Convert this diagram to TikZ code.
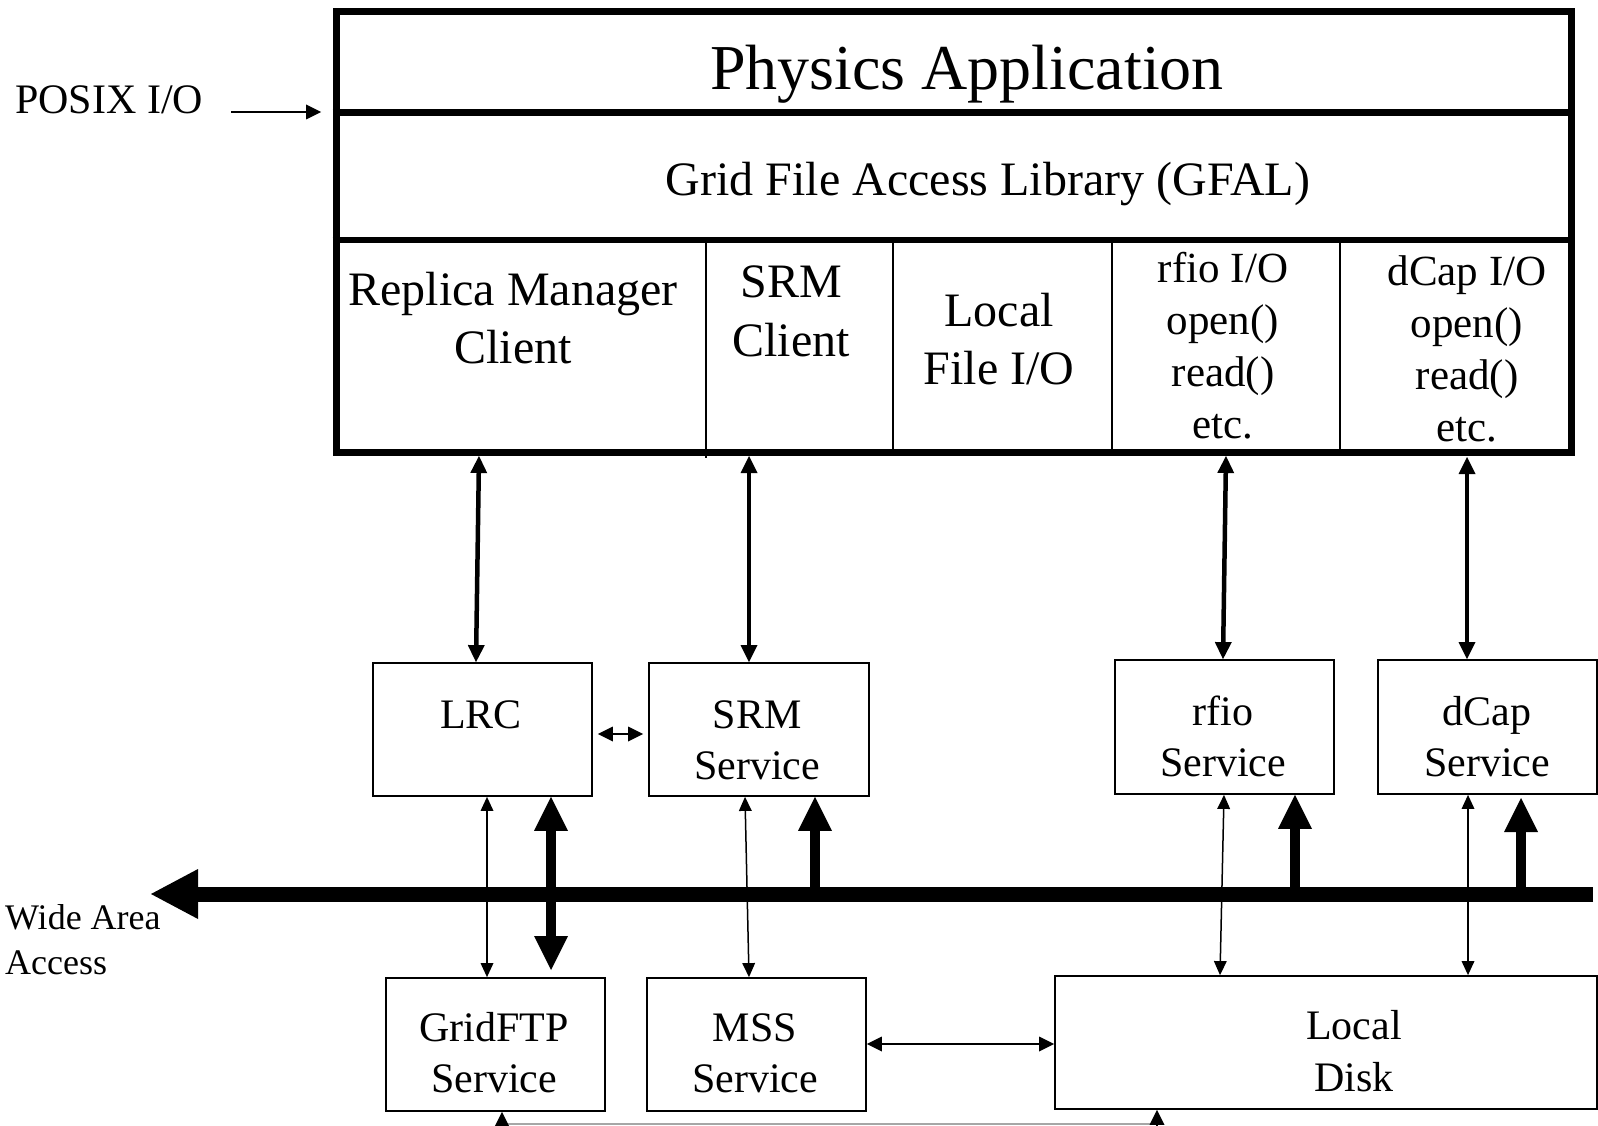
\documentclass[tikz,border=0pt]{standalone}
\usepackage{fontspec}
\setmainfont{Liberation Serif}
\usetikzlibrary{arrows.meta,calc}

\begin{document}
\begin{tikzpicture}[x=1pt,y=-1pt,
  frame/.style={draw, line width=7pt, inner sep=0pt},
  sbox/.style={draw, line width=1.8pt, inner sep=0pt},
  tA/.style={font=\fontsize{64}{77}\selectfont, anchor=base, inner sep=0pt},
  tB/.style={font=\fontsize{48}{58}\selectfont, anchor=base, inner sep=0pt},
  tC/.style={font=\fontsize{43}{52}\selectfont, anchor=base, inner sep=0pt},
  tD/.style={font=\fontsize{42}{51}\selectfont, anchor=base, inner sep=0pt},
  tE/.style={font=\fontsize{36}{44}\selectfont, anchor=base west, inner sep=0pt},
  link/.style={line width=4.5pt,
    {Triangle[width=17pt,length=17pt,line width=0pt]}-{Triangle[width=17pt,length=17pt,line width=0pt]}},
  pair/.style={line width=2.5pt,
    {Triangle[width=15pt,length=15pt,line width=0pt]}-{Triangle[width=15pt,length=15pt,line width=0pt]}},
  slim/.style={line width=1.5pt,
    {Triangle[width=13pt,length=14pt,line width=0pt]}-{Triangle[width=13pt,length=14pt,line width=0pt]}},
  feed/.style={line width=10pt, -{Triangle[width=34pt,length=34pt,line width=0pt]}},
  feedboth/.style={line width=10pt,
    {Triangle[width=34pt,length=34pt,line width=0pt]}-{Triangle[width=34pt,length=34pt,line width=0pt]}},
  bus/.style={line width=15pt, -{Triangle[width=50pt,length=47pt,line width=0pt]}},
  pointer/.style={line width=2pt, -{Triangle[width=15pt,length=15pt,line width=0pt]}},
  wire/.style={line width=1.5pt, draw=gray!70}
]
\useasboundingbox (0,0) rectangle (1598,1126);

% application stack
\node[frame, minimum width=1235pt, minimum height=440pt] (app) at (953.5,232) {};
\draw[line width=7pt] (app.west |- 0,113) -- (app.east |- 0,113);
\draw[line width=6pt] (app.west |- 0,240) -- (app.east |- 0,240);
\draw[line width=1.6pt] (706,240) -- (706,458);
\draw[line width=1.6pt] (893,240) -- (893,452);
\draw[line width=1.6pt] (1112,240) -- (1112,452);
\draw[line width=1.6pt] (1340,240) -- (1340,452);

\node[tA] (phys) at (967,90) {Physics Application};
\node[tB] (gfal) at (988,196) {Grid File Access Library (GFAL)};
\node[tB] (rmc1) at (513,305) {Replica Manager};
\node[tB] (rmc2) at (513,363) {Client};
\node[tB] (srmc1) at (791,297) {SRM};
\node[tB] (srmc2) at (791,356) {Client};
\node[tB] (lfio1) at (999,326) {Local};
\node[tB] (lfio2) at (999,384) {File I/O};
\node[tC] (rfc1) at (1223,282) {rfio I/O};
\node[tC] (rfc2) at (1223,334) {open()};
\node[tC] (rfc3) at (1223,386) {read()};
\node[tC] (rfc4) at (1223,438) {etc.};
\node[tC] (dcc1) at (1467,285) {dCap I/O};
\node[tC] (dcc2) at (1467,337) {open()};
\node[tC] (dcc3) at (1467,389) {read()};
\node[tC] (dcc4) at (1467,441) {etc.};

\node[font=\fontsize{42}{51}\selectfont, anchor=base west, inner sep=0pt] (posix) at (15,114) {POSIX I/O};
\coordinate (posixS) at (231,112);
\coordinate (posixE) at (321,112);
\draw[pointer] (posixS) -- (posixE);

% services
\node[sbox, minimum width=219pt, minimum height=133pt] (lrc) at (482.5,729.5) {};
\node[sbox, minimum width=220pt, minimum height=133pt] (srmsvc) at (759,729.5) {};
\node[sbox, minimum width=219pt, minimum height=134pt] (rfiosvc) at (1224.5,727) {};
\node[sbox, minimum width=219pt, minimum height=134pt] (dcapsvc) at (1487.5,727) {};
\node[sbox, minimum width=219pt, minimum height=133pt] (gridftp) at (495.5,1044.5) {};
\node[sbox, minimum width=219pt, minimum height=133pt] (mss) at (756.5,1044.5) {};
\node[sbox, minimum width=542pt, minimum height=133pt] (disk) at (1326,1042.5) {};

\node[tD] (lrcT) at (481,728) {LRC};
\node[tD] (srmT1) at (757,728) {SRM};
\node[tD] (srmT2) at (757,779) {Service};
\node[tD] (rfioT1) at (1223,725) {rfio};
\node[tD] (rfioT2) at (1223,776) {Service};
\node[tD] (dcapT1) at (1487,725) {dCap};
\node[tD] (dcapT2) at (1487,776) {Service};
\node[tD] (gftpT1) at (494,1041) {GridFTP};
\node[tD] (gftpT2) at (494,1092) {Service};
\node[tD] (mssT1) at (755,1041) {MSS};
\node[tD] (mssT2) at (755,1092) {Service};
\node[tD] (diskT1) at (1354,1039) {Local};
\node[tD] (diskT2) at (1354,1091) {Disk};

\node[tE] (wan1) at (5,929) {Wide Area};
\node[tE] (wan2) at (5,974) {Access};

% client to service links
\draw[link] (479,456) -- (lrc.north -| 476,0);
\draw[link] (749,456) -- (srmsvc.north -| 749,0);
\draw[link] (1226,456) -- (rfiosvc.north -| 1223,0);
\draw[link] (1467,457) -- (dcapsvc.north -| 1467,0);
\draw[pair, shorten <=5pt, shorten >=5pt] (lrc.east |- 0,734) -- (srmsvc.west |- 0,734);

% wide area bus
\coordinate (busE) at (1593,894);
\coordinate (busW) at (151,894);
\draw[bus] (busE) -- (busW);
\draw[feed] (busW -| 815,0) -- (srmsvc.south -| 815,0);
\draw[feed] (busW -| 1295,0) -- (rfiosvc.south -| 1295,0);
\draw[feed] (busW -| 1521,0) -- (1521,798);
\draw[feedboth] (lrc.south -| 551,0) -- (551,970);

% service to storage links
\draw[slim] (lrc.south -| 487,0) -- (gridftp.north -| 487,0);
\draw[slim] (srmsvc.south -| 745,0) -- (mss.north -| 749,0);
\draw[slim] (rfiosvc.south -| 1224,0) -- (disk.north -| 1220,0);
\draw[slim] (dcapsvc.south -| 1468,0) -- (disk.north -| 1468,0);
\draw[pair] (mss.east |- 0,1044) -- (disk.west |- 0,1044);

% transfer path along the bottom
\coordinate (lowL) at (502,1124);
\coordinate (lowR) at (1157,1124);
\draw[wire] (lowL) -- (lowR);
\draw[pointer] (502,1128) -- (gridftp.south -| 502,0);
\draw[pointer] (1157,1128) -- (disk.south -| 1157,0);
\end{tikzpicture}
\end{document}
